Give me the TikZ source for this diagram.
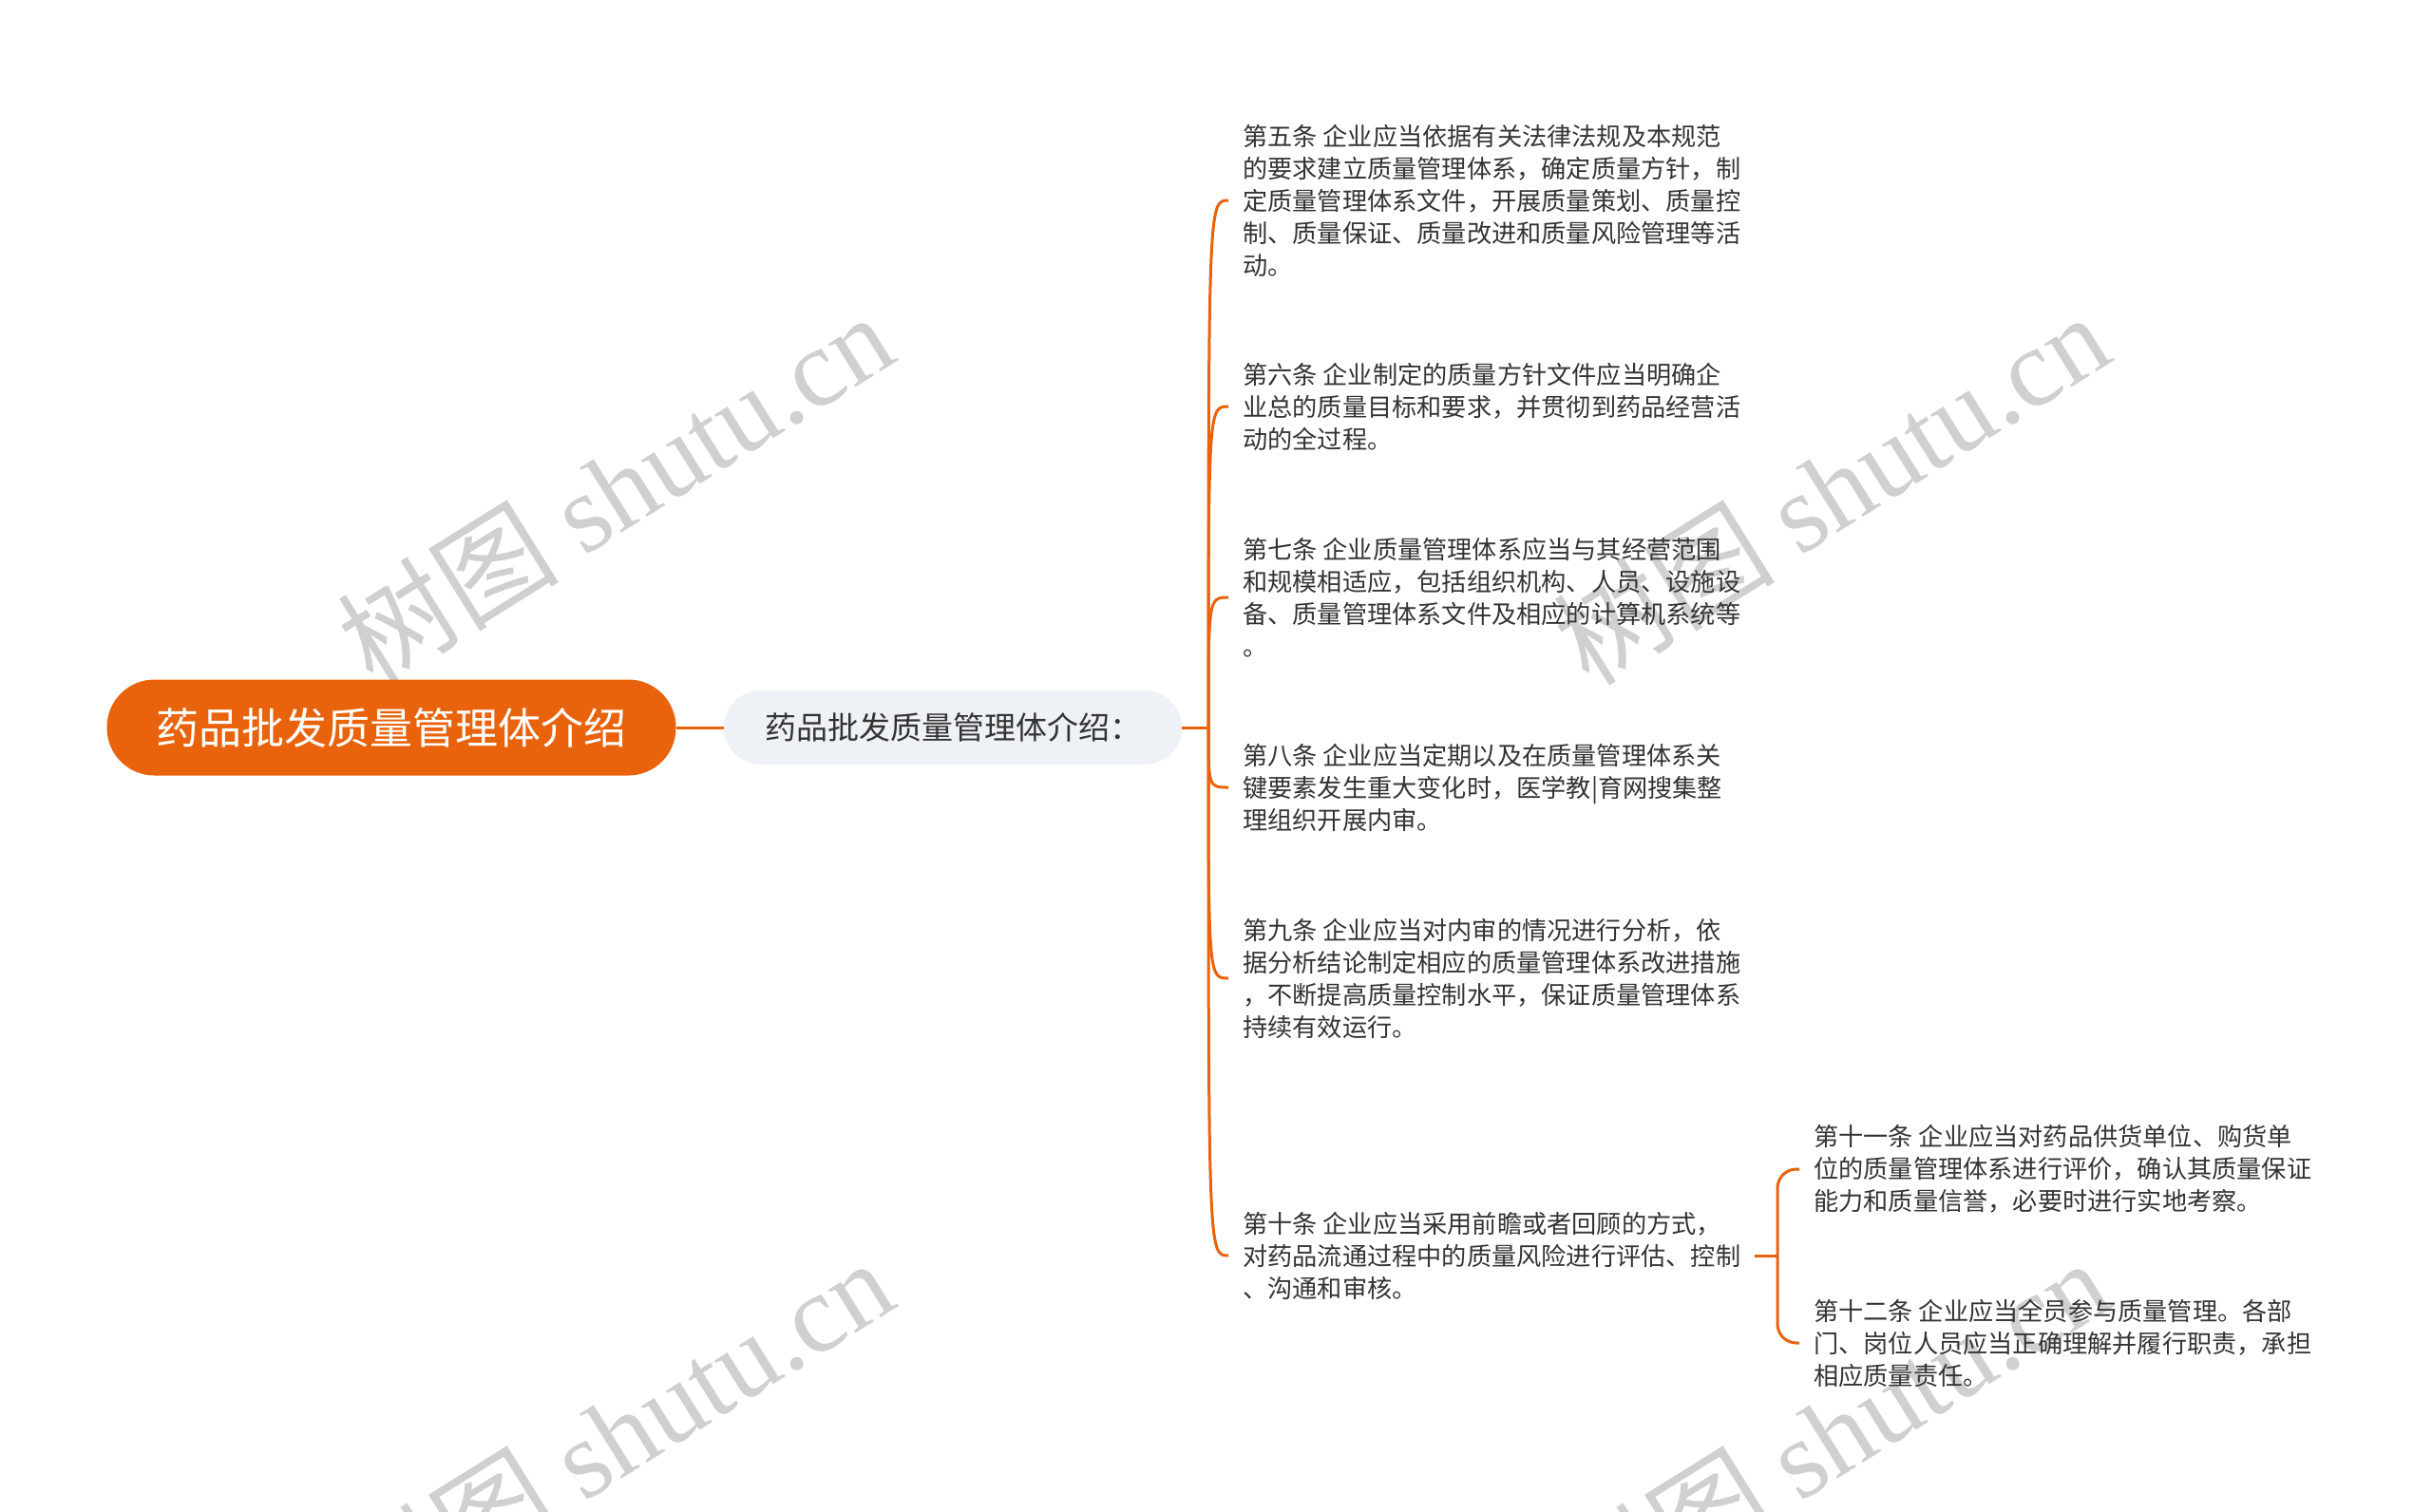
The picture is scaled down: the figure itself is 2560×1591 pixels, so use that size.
\documentclass[tikz,border=0pt]{standalone}
\usepackage{fontspec}
\setmainfont{Noto Sans CJK SC}
\newfontfamily\wmfont{Liberation Serif}
\usepackage{tikz}

\definecolor{mindorange}{RGB}{233,99,12}
\definecolor{subgray}{RGB}{238,241,245}
\definecolor{textgray}{RGB}{51,51,51}
\definecolor{wmgray}{RGB}{208,208,208}

\begin{document}
\begin{tikzpicture}[x=1pt,y=-1pt,
    link/.style={draw=mindorange,line width=3pt},
    rootbox/.style={fill=mindorange,text=white,rounded corners=50pt,
                    minimum width=599pt,minimum height=101pt,
                    font=\fontsize{45}{54}\selectfont},
    subbox/.style={fill=subgray,text=textgray,rounded corners=39pt,
                   minimum width=482pt,minimum height=78pt,
                   font=\fontsize{33}{39}\selectfont},
    leaf/.style={anchor=west,align=left,text=textgray,
                 inner xsep=15pt,inner ysep=4pt,
                 font=\fontsize{26.2}{34}\selectfont},
    watermark/.style={rotate=32,text=wmgray,
                      font=\fontsize{117}{117}\selectfont}]
    \clip (0,0) rectangle (2560,1591);

    % watermarks behind everything
    \node[watermark] (wm1) at (647,514) {树图 {\wmfont shutu.cn}};
    \node[watermark] (wm2) at (1927,514) {树图 {\wmfont shutu.cn}};
    \node[watermark] (wm3) at (647,1510) {树图 {\wmfont shutu.cn}};
    \node[watermark] (wm4) at (1927,1510) {树图 {\wmfont shutu.cn}};

    % root and its single subtopic
    \node[rootbox] (root) at (412,766) {药品批发质量管理体介绍};
    \node[subbox] (sub) at (1003,766) {药品批发质量管理体介绍：};
    \coordinate (fork) at (1272,766);

    % first level articles
    \node[leaf] (s5) at (1293,211) {第五条 企业应当依据有关法律法规及本规范\\
        的要求建立质量管理体系，确定质量方针，制\\
        定质量管理体系文件，开展质量策划、质量控\\
        制、质量保证、质量改进和质量风险管理等活\\
        动。};
    \node[leaf] (s6) at (1293,428) {第六条 企业制定的质量方针文件应当明确企\\
        业总的质量目标和要求，并贯彻到药品经营活\\
        动的全过程。};
    \node[leaf] (s7) at (1293,629) {第七条 企业质量管理体系应当与其经营范围\\
        和规模相适应，包括组织机构、人员、设施设\\
        备、质量管理体系文件及相应的计算机系统等\\
        。};
    \node[leaf] (s8) at (1293,829) {第八条 企业应当定期以及在质量管理体系关\\
        键要素发生重大变化时，医学教|育网搜集整\\
        理组织开展内审。};
    \node[leaf] (s9) at (1293,1030) {第九条 企业应当对内审的情况进行分析，依\\
        据分析结论制定相应的质量管理体系改进措施\\
        ，不断提高质量控制水平，保证质量管理体系\\
        持续有效运行。};
    \node[leaf] (s10) at (1293,1322) {第十条 企业应当采用前瞻或者回顾的方式，\\
        对药品流通过程中的质量风险进行评估、控制\\
        、沟通和审核。};

    % second level under article ten
    \coordinate (fork2) at (1871,1322);
    \node[leaf] (s11) at (1894,1231) {第十一条 企业应当对药品供货单位、购货单\\
        位的质量管理体系进行评价，确认其质量保证\\
        能力和质量信誉，必要时进行实地考察。};
    \node[leaf] (s12) at (1894,1414) {第十二条 企业应当全员参与质量管理。各部\\
        门、岗位人员应当正确理解并履行职责，承担\\
        相应质量责任。};

    % connectors
    \draw[link] (root.east) -- (sub.west);
    \draw[link] (sub.east) -- (fork);
    \foreach \kid in {s5,s6,s7,s8,s9,s10}
        \draw[link] (fork) .. controls (fork |- \kid.west) .. (\kid.west);
    \draw[link] (s10.east) -- (fork2);
    \foreach \kid in {s11,s12}
        \draw[link,rounded corners=20pt] (fork2) |- (\kid.west);
\end{tikzpicture}
\end{document}
